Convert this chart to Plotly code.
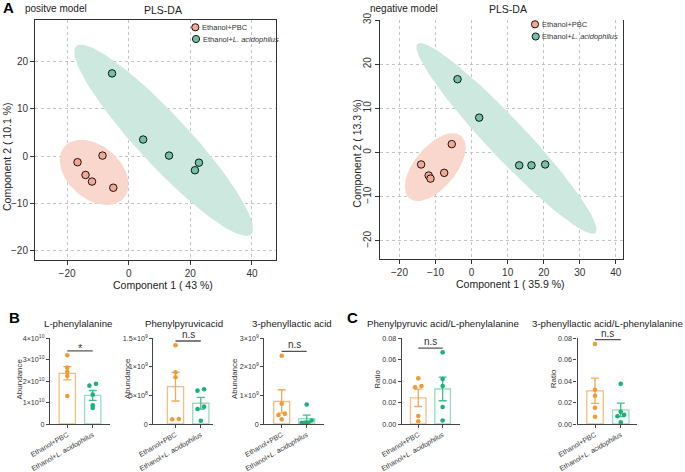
import numpy as np
import plotly.graph_objects as go

# PLS-DA scores (component 1, component 2)
POS_PBC_X = [-16.6, -14.0, -11.9, -8.5, -5.0]
POS_PBC_Y = [-1.3, -4.0, -5.4, 0.1, -6.7]
POS_LA_X = [-5.4, 4.7, 13.1, 21.5, 22.8]
POS_LA_Y = [17.5, 3.5, 0.1, -3.0, -1.4]
NEG_PBC_X = [-14.0, -11.9, -11.4, -7.6, -5.5]
NEG_PBC_Y = [-2.7, -5.2, -5.9, -4.6, 1.9]
NEG_LA_X = [-3.9, 2.1, 13.2, 16.6, 20.4]
NEG_LA_Y = [16.6, 7.9, -2.9, -2.9, -2.7]

GROUPS = ["Ethanol+PBC", "Ethanol+<i>L. acidophilus</i>"]

# per-animal values for panels B and C
PHE_PBC = [3.21e10, 2.63e10, 2.44e10, 2.24e10, 1.31e10]
PHE_LA = [1.88e10, 1.79e10, 1.37e10, 0.87e10, 0.75e10]
PPA_PBC = [1.378e9, 0.905e9, 0.817e9, 0.082e9, 0.088e9]
PPA_LA = [0.607e9, 0.584e9, 0.304e9, 0.263e9, 0.058e9]
PLA_PBC = [2.39e9, 0.712e9, 0.362e9, 0.315e9, 0.163e9]
PLA_LA = [0.68e9, 0.12e9, 0.05e9, 0.04e9, 0.05e9]
PPA_RATIO_PBC = [0.0426, 0.0342, 0.0355, 0.0075, 0.0025]
PPA_RATIO_LA = [0.0669, 0.0420, 0.0355, 0.0158, 0.0032]
PLA_RATIO_PBC = [0.0747, 0.0319, 0.0264, 0.0152, 0.0068]
PLA_RATIO_LA = [0.0375, 0.0115, 0.0085, 0.0072, 0.0015]

TITLES = ["L-phenylalanine", "Phenylpyruvicacid", "3-phenyllactic acid",
          "Phenylpyruvic acid/L-phenylalanine", "3-phenyllactic acid/L-phenylalanine"]
SIGNIF = ["*", "n.s", "n.s", "n.s", "n.s"]
Y_LABELS = ["Abundance", "Abundance", "Abundance", "Ratio", "Ratio"]
PHE_TICKS = [0, 1e10, 2e10, 3e10, 4e10]
PHE_TICKTEXT = ["0", "1×10<sup>10</sup>", "2×10<sup>10</sup>", "3×10<sup>10</sup>", "4×10<sup>10</sup>"]
PPA_TICKS = [0, 5e8, 1e9, 1.5e9]
PPA_TICKTEXT = ["0", "5×10<sup>8</sup>", "1×10<sup>9</sup>", "1.5×10<sup>9</sup>"]
PLA_TICKS = [0, 1e9, 2e9, 3e9]
PLA_TICKTEXT = ["0", "1×10<sup>9</sup>", "2×10<sup>9</sup>", "3×10<sup>9</sup>"]
RATIO_TICKS = [0, 0.02, 0.04, 0.06, 0.08]
RATIO_TICKTEXT = ["0.00", "0.02", "0.04", "0.06", "0.08"]

W, H = 685, 472
FONT = "Arial, Liberation Sans, sans-serif"
AX = "#333333"


def fx(p):
    return p / W


def fy(p):
    return 1 - p / H


def label(text, x, y, size, color="#222", angle=0, xanchor="center"):
    # text placed by pixel position on the page
    return dict(text=text, x=fx(x), y=fy(y), xref="paper", yref="paper", showarrow=False,
                xanchor=xanchor, yanchor="middle", textangle=angle,
                font=dict(size=size, color=color, family=FONT))


def ellipse_xy(x, y, n=120):
    # 95% confidence ellipse from the group covariance
    x = np.asarray(x)
    y = np.asarray(y)
    vals, vecs = np.linalg.eigh(np.cov(x, y))
    t = np.linspace(0, 2 * np.pi, n)
    circ = np.vstack([np.cos(t), np.sin(t)])
    pts = vecs @ (np.sqrt(vals)[:, None] * np.sqrt(5.991) * circ)
    return x.mean() + pts[0], y.mean() + pts[1]


def swarm(values, span, thr=0.03):
    # spread points that sit at nearly the same height
    order = np.argsort(values)
    offs = np.zeros(len(values))
    clusters, cur = [], [order[0]]
    for a, b in zip(order[:-1], order[1:]):
        if abs(values[b] - values[a]) < thr * span:
            cur.append(b)
        else:
            clusters.append(cur)
            cur = [b]
    clusters.append(cur)
    for c in clusters:
        if len(c) > 1:
            pos = np.linspace(-0.2, 0.2, len(c)) if len(c) > 2 else [-0.13, 0.13]
            for k, idx in enumerate(c):
                offs[idx] = pos[k]
    return offs


fig = go.Figure()
shapes, annotations = [], []

PBC_FILL, LA_FILL = "#fad7cd", "#cde8df"
PBC_DOT, LA_DOT = "#f2a797", "#72c1a7"

# ---------- panel A ----------
scatter_panels = [
    ("", POS_PBC_X, POS_PBC_Y, POS_LA_X, POS_LA_Y),
    ("2", NEG_PBC_X, NEG_PBC_Y, NEG_LA_X, NEG_LA_Y),
]
for sfx, px_, py_, lx_, ly_ in scatter_panels:
    for gx, gy, fill in [(px_, py_, PBC_FILL), (lx_, ly_, LA_FILL)]:
        ex, ey = ellipse_xy(gx, gy)
        fig.add_trace(go.Scatter(x=ex, y=ey, mode="lines", fill="toself", fillcolor=fill,
                                 line=dict(width=0), hoverinfo="skip", showlegend=False,
                                 xaxis="x" + sfx, yaxis="y" + sfx))
    for gx, gy, col, name in [(px_, py_, PBC_DOT, GROUPS[0]), (lx_, ly_, LA_DOT, GROUPS[1])]:
        fig.add_trace(go.Scatter(x=gx, y=gy, mode="markers", name=name, showlegend=False,
                                 marker=dict(size=7.5, color=col, line=dict(color="black", width=0.9)),
                                 xaxis="x" + sfx, yaxis="y" + sfx))

scatter_ax = dict(showgrid=True, gridcolor="#c4c4c4", griddash="dot", gridwidth=0.8, automargin=False,
                  zeroline=False, showline=True, linecolor=AX, linewidth=1, ticks="outside",
                  ticklen=4, tickcolor=AX, tickfont=dict(size=10, color="#333", family=FONT))
fig.update_layout(
    xaxis=dict(scatter_ax, domain=[fx(35), fx(276)], range=[-30.4, 47.8], tickvals=[-20, 0, 20, 40],
               mirror=True, anchor="y"),
    yaxis=dict(scatter_ax, domain=[fy(260), fy(20)], range=[-22, 28.8], tickvals=[-20, -10, 0, 10, 20],
               mirror=True, anchor="x"),
    xaxis2=dict(scatter_ax, domain=[fx(380), fx(622.7)], range=[-25.4, 41.9],
                tickvals=[-20, -10, 0, 10, 20, 30, 40], anchor="y2"),
    yaxis2=dict(scatter_ax, domain=[fy(259), fy(20)], range=[-24.1, 30],
                tickvals=[-20, -10, 0, 10, 20, 30], tickangle=-90, mirror=True, anchor="x2"),
)

annotations += [
    label("positve model", 56, 9, 10), label("PLS-DA", 163, 10, 10.5),
    label("negative model", 404, 9, 10), label("PLS-DA", 508, 9, 10.5),
    label("Component 1 ( 43 %)", 163, 285, 10.5), label("Component 1 ( 35.9 %)", 510, 284, 10.5),
    label("Component 2 ( 10.1 %)", 7, 157, 10.5, angle=-90),
    label("Component 2 ( 13.3 %)", 356.7, 153, 10.5, angle=-90),
]

# hand-placed legends
for (cx, cy), (cx2, cy2) in [((195.3, 27.3), (196, 39)), ((535, 24.3), (535.7, 36.5))]:
    for (x, y), col, name in [((cx, cy), PBC_DOT, GROUPS[0]), ((cx2, cy2), LA_DOT, GROUPS[1])]:
        shapes.append(dict(type="circle", xref="paper", yref="paper", xsizemode="pixel", ysizemode="pixel",
                           xanchor=fx(x), yanchor=fy(y), x0=-3.6, x1=3.6, y0=-3.6, y1=3.6,
                           fillcolor=col, line=dict(color="black", width=0.9)))
        annotations.append(label(name, x + 4.5, y, 7.5, color="#333", xanchor="left"))

# ---------- panels B and C ----------
bar_panels = [
    (PHE_PBC, PHE_LA, PHE_TICKS, PHE_TICKTEXT, 50.0, 110.0, [-0.68, 1.68], 78, 18.5),
    (PPA_PBC, PPA_LA, PPA_TICKS, PPA_TICKTEXT, 153.3, 213.3, [-0.877, 1.494], 184, 127),
    (PLA_PBC, PLA_LA, PLA_TICKS, PLA_TICKTEXT, 264.3, 323.5, [-0.696, 1.672], 291.7, 234),
    (PPA_RATIO_PBC, PPA_RATIO_LA, RATIO_TICKS, RATIO_TICKTEXT, 401.7, 459.7, [-0.68, 1.70], 443, 376.7),
    (PLA_RATIO_PBC, PLA_RATIO_LA, RATIO_TICKS, RATIO_TICKTEXT, 577.5, 636.7, [-0.68, 1.62], 607.5, 553.3),
]
BAR_EDGE = ["#f7bd80", "#96dcbd"]
ERR_COL = ["#f3a85a", "#3fbf8a"]
DOT_COL = ["#f29a33", "#19b277"]

for i, (pbc, la, tv, tt, x0, x1, xr, tcx, ylx) in enumerate(bar_panels):
    n = str(i + 3)
    ymax = tv[-1]
    for g, vals in enumerate([pbc, la]):
        v = np.asarray(vals)
        mean = v.mean()
        sem = v.std(ddof=1) / np.sqrt(len(v))
        fig.add_trace(go.Bar(x=[g], y=[mean], width=0.64, showlegend=False,
                             marker=dict(color="white", line=dict(color=BAR_EDGE[g], width=1.3)),
                             error_y=dict(type="data", array=[sem], color=ERR_COL[g], thickness=1.3, width=4),
                             xaxis="x" + n, yaxis="y" + n))
        fig.add_trace(go.Scatter(x=g + swarm(v, ymax), y=v, mode="markers", showlegend=False,
                                 cliponaxis=False, marker=dict(size=4.6, color=DOT_COL[g]),
                                 xaxis="x" + n, yaxis="y" + n))
    level = max(max(pbc), max(la)) + 0.05 * ymax
    shapes.append(dict(type="line", xref="x" + n, yref="y" + n, x0=0, x1=1, y0=level, y1=level,
                       line=dict(color="#555", width=1.3)))
    star = SIGNIF[i] == "*"
    annotations.append(dict(text=SIGNIF[i], x=0.5, y=level, xref="x" + n, yref="y" + n, showarrow=False,
                            xanchor="center", yanchor="bottom", yshift=-5 if star else -1,
                            font=dict(size=11 if star else 10, color="#333", family=FONT)))
    annotations.append(label(TITLES[i], tcx, 323, 9.7))
    annotations.append(label(Y_LABELS[i], ylx, 379, 8, color="#333", angle=-90))
    fig.layout["xaxis" + n] = dict(domain=[fx(x0), fx(x1)], range=xr, anchor="y" + n, automargin=False,
                                   tickvals=[0, 1], ticktext=GROUPS, tickangle=-30,
                                   showline=True, linecolor="#444", linewidth=1.2, ticks="outside",
                                   ticklen=3, tickcolor="#444", showgrid=False, zeroline=False,
                                   tickfont=dict(size=7, color="#333", family=FONT))
    fig.layout["yaxis" + n] = dict(domain=[fy(424), fy(338.3)], range=[0, ymax], anchor="x" + n,
                                   automargin=False,
                                   tickvals=tv, ticktext=tt, showline=True, linecolor="#444",
                                   linewidth=1.2, ticks="outside", ticklen=3, tickcolor="#444",
                                   showgrid=False, zeroline=False,
                                   tickfont=dict(size=7.2, color="#333", family=FONT))

for t, x, y in [("A", 8.5, 8), ("B", 14, 317.5), ("C", 353, 317.5)]:
    annotations.append(label("<b>" + t + "</b>", x, y, 15, color="black"))

fig.update_layout(width=W, height=H, margin=dict(l=0, r=0, t=0, b=0), paper_bgcolor="white",
                  plot_bgcolor="white", shapes=shapes, annotations=annotations, barmode="overlay",
                  font=dict(family=FONT), template="none")
# drop the page's default body margin so the figure starts at the window corner
fig.write_html("out.html", config={"displayModeBar": False},
               post_script="document.body.style.margin='0px';")
